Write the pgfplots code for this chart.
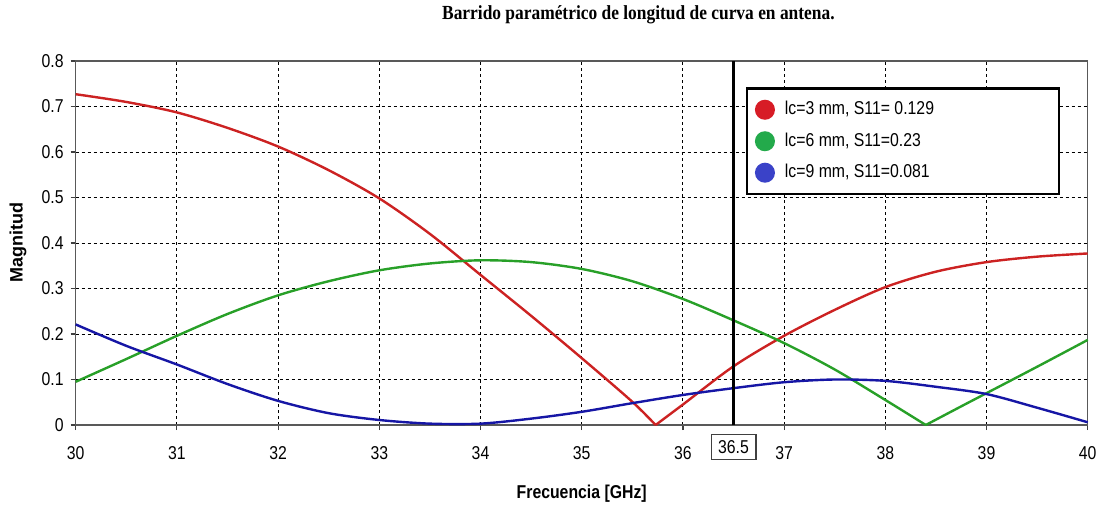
\documentclass[border=0pt]{standalone}
\usepackage{fontspec}
\setmainfont{Liberation Sans}[FakeStretch=0.85]
\newfontfamily\plainsans{Liberation Sans}
\newfontfamily\titlefont{Liberation Serif}[FakeStretch=0.87]
\usepackage{pgfplots}
\pgfplotsset{compat=1.18}

\definecolor{curvered}{RGB}{204,34,34}
\definecolor{curvegreen}{RGB}{40,160,40}
\definecolor{curveblue}{RGB}{22,22,165}
\definecolor{dotred}{RGB}{215,28,38}
\definecolor{dotgreen}{RGB}{35,170,75}
\definecolor{dotblue}{RGB}{58,66,200}

% |S11| versus frequency for three bend lengths lc
\pgfplotstableread{
f     s
30    0.727
30.5  0.710
31    0.687
31.5  0.653
32    0.612
32.5  0.560
33    0.498
33.5  0.420
34    0.330
34.5  0.240
35    0.147
35.5  0.051
35.73 0.000
36    0.045
36.5  0.129
37    0.196
37.5  0.253
38    0.303
38.5  0.337
39    0.358
39.5  0.370
40    0.377
}\lcthree

\pgfplotstableread{
f     s
30    0.095
30.5  0.145
31    0.196
31.5  0.244
32    0.285
32.5  0.316
33    0.340
33.5  0.355
34    0.362
34.5  0.358
35    0.343
35.5  0.316
36    0.277
36.5  0.230
37    0.180
37.5  0.122
38    0.055
38.4  0.000
38.75 0.041
39    0.070
39.5  0.128
40    0.187
}\lcsix

\pgfplotstableread{
f     s
30    0.221
30.5  0.174
31    0.133
31.5  0.090
32    0.053
32.5  0.026
33    0.011
33.5  0.003
34    0.003
34.5  0.014
35    0.029
35.5  0.048
36    0.066
36.5  0.081
37    0.094
37.5  0.100
38    0.097
38.5  0.084
39    0.068
39.5  0.038
40    0.006
}\lcnine

\begin{document}
\begin{tikzpicture}
\begin{axis}[
  width=506pt, height=182pt, scale only axis,
  xmin=30, xmax=40, ymin=0, ymax=0.8,
  xtick={30,31,...,40},
  ytick={0,0.1,...,0.8},
  extra x ticks={36.5},
  extra x tick labels={36.5},
  extra x tick style={grid=none, major tick length=0pt,
    tick label style={draw=black!75, line width=0.6pt, inner xsep=3.5pt, inner ysep=3pt}},
  font=\fontsize{9.3}{11}\selectfont,
  /pgf/number format/assume math mode=true,
  yticklabel style={/pgf/number format/fixed},
  xticklabel style={yshift=-4.5pt},
  grid=major,
  major grid style={black, line width=0.45pt, dash pattern=on 1.7pt off 1.3pt},
  axis line style={black!65, line width=0.6pt},
  tick align=outside, tick pos=left, major tick length=2.5pt,
  tick style={black!75, line width=0.6pt},
  xlabel={\bfseries Frecuencia [GHz]},
  ylabel={\plainsans\bfseries\fontsize{9}{11}\selectfont Magnitud},
  every axis x label/.style={at={(rel axis cs:0.5,-0.19)}, anchor=center},
  every axis y label/.style={at={(rel axis cs:-0.057,0.5)}, rotate=90, anchor=center},
  title={\titlefont\bfseries\fontsize{10}{12}\selectfont Barrido paramétrico de longitud de curva en antena.},
  every axis title/.style={at={(rel axis cs:0.556,1.126)}, anchor=center},
  legend cell align=left,
  legend style={at={(rel axis cs:0.662,0.928)}, anchor=north west,
    draw=black, line width=1.3pt, fill=white,
    inner xsep=4pt, inner ysep=4.5pt, row sep=3.5pt,
    /tikz/every odd column/.append style={column sep=3pt},
    font=\fontsize{9.3}{11}\selectfont},
  clip=false,
]
\addplot[curvered, line width=1.2pt, smooth, skip coords between index={13}{100},
  legend image code/.code={\fill[dotred] (0pt,0pt) circle (4.4pt);}]
  table[x=f, y=s] {\lcthree};
\addlegendentry{\makebox[131pt][l]{lc=3 mm, S11= 0.129}}
\addplot[curvered, line width=1.2pt, smooth, skip coords between index={0}{12}, forget plot]
  table[x=f, y=s] {\lcthree};
\addplot[curvegreen, line width=1.2pt, smooth, skip coords between index={18}{100},
  legend image code/.code={\fill[dotgreen] (0pt,0pt) circle (4.4pt);}]
  table[x=f, y=s] {\lcsix};
\addlegendentry{\makebox[131pt][l]{lc=6 mm, S11=0.23}}
\addplot[curvegreen, line width=1.2pt, smooth, skip coords between index={0}{17}, forget plot]
  table[x=f, y=s] {\lcsix};
\addplot[curveblue, line width=1.2pt, smooth,
  legend image code/.code={\fill[dotblue] (0pt,0pt) circle (4.4pt);}]
  table[x=f, y=s] {\lcnine};
\addlegendentry{\makebox[131pt][l]{lc=9 mm, S11=0.081}}
% marker at 36.5 GHz
\addplot[black, line width=1.1pt, forget plot] coordinates {(36.5,0) (36.5,0.8)};
\coordinate (bbl) at (rel axis cs:-0.0748,-0.2335);
\coordinate (bbr) at (rel axis cs:1.0151,1.1676);
\end{axis}
\pgfresetboundingbox
\path[use as bounding box] (bbl) rectangle (bbr);
\end{tikzpicture}
\end{document}
